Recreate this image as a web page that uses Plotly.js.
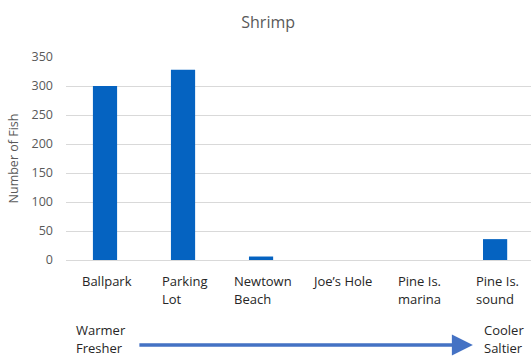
<!DOCTYPE html>
<html>
<head>
<meta charset="utf-8">
<script src="https://cdn.plot.ly/plotly-3.0.1.min.js"></script>
<style>html,body{margin:0;padding:0;background:#fff;}#chart{width:531px;height:358px;}</style>
</head>
<body>
<div id="chart"></div>
<script>
const categories = ['Ballpark', 'Parking<br>Lot', 'Newtown<br>Beach', 'Joe\u2019s Hole', 'Pine Is.<br>marina', 'Pine Is.<br>sound'];
const fishCounts = [300, 328, 6, 0, 0, 36];
const yTicks = [0, 50, 100, 150, 200, 250, 300, 350];
const leftNote = ['Warmer', 'Fresher'];
const rightNote = ['Cooler', 'Saltier'];

const FONT = 'Open Sans, sans-serif';
const LABEL_SIZE = 13;
const labelColor = '#262626';

function textWidth(s, size) {
  const c = document.createElement('canvas').getContext('2d');
  c.font = size + 'px "Open Sans"';
  return c.measureText(s).width;
}

const plotH = 203;
const px2paper = p => -p / plotH; // pixels below plot bottom -> paper y
const lineGap = 18.3;

const annotations = [];
categories.forEach(cat => {
  const lines = cat.split('<br>');
  const w = Math.max(...lines.map(l => textWidth(l, LABEL_SIZE)));
  lines.forEach((l, i) => {
    annotations.push({
      x: cat, xref: 'x', y: px2paper(20.5 + i * lineGap), yref: 'paper',
      text: l, showarrow: false, xanchor: 'left', yanchor: 'middle',
      xshift: -w / 2, font: {family: FONT, size: LABEL_SIZE, color: labelColor}
    });
  });
});
[[leftNote, 0.017], [rightNote, 0.895]].forEach(([note, xp]) => {
  note.forEach((l, i) => {
    annotations.push({
      x: xp, xref: 'paper', y: px2paper(70 + i * lineGap), yref: 'paper',
      text: l, showarrow: false, xanchor: 'left', yanchor: 'middle',
      font: {family: FONT, size: LABEL_SIZE, color: labelColor}
    });
  });
});
annotations.push({
  x: 0.875, xref: 'paper', y: px2paper(85), yref: 'paper',
  ax: -335, ay: 0, text: '', showarrow: true,
  arrowhead: 2, arrowsize: 1.2, arrowwidth: 3.5, arrowcolor: '#4472C4', standoff: 0
});

const trace = {
  type: 'bar', x: categories, y: fishCounts,
  marker: {color: '#0563C1', line: {width: 0}},
  hoverinfo: 'x+y'
};

const layout = {
  width: 531, height: 358,
  margin: {l: 66, r: 0, t: 57, b: 98},
  paper_bgcolor: '#fff', plot_bgcolor: '#fff',
  title: {text: 'Shrimp', x: 0.505, xref: 'container', xanchor: 'center',
          y: 1 - 22 / 358, yref: 'container', yanchor: 'middle',
          font: {family: FONT, size: 16, color: '#595959'}},
  showlegend: false,
  bargap: 0.69,
  xaxis: {type: 'category', range: [-0.5, 5.46], showticklabels: false,
          showgrid: false, zeroline: false, showline: false, ticks: '', fixedrange: true},
  yaxis: {range: [0, 350], tickvals: yTicks, ticktext: yTicks.map(String),
          showgrid: true, gridcolor: '#d9d9d9', gridwidth: 1,
          zeroline: true, zerolinecolor: '#d9d9d9', zerolinewidth: 1,
          showline: false, ticks: '', ticklabelstandoff: 12, automargin: false,
          tickfont: {family: FONT, size: 12.5, color: '#595959'},
          title: {text: 'Number of Fish', standoff: 10,
                  font: {family: FONT, size: 12.5, color: '#595959'}}},
  annotations: annotations
};

Plotly.newPlot('chart', [trace], layout, {displayModeBar: false, staticPlot: true});
</script>
</body>
</html>
